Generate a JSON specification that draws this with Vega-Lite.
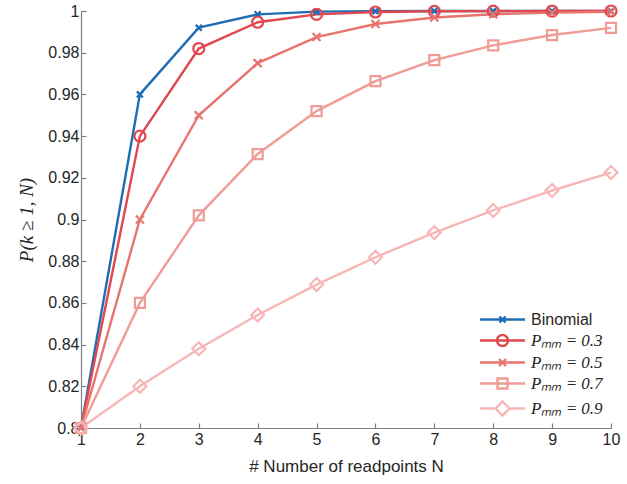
{
  "$schema": "https://vega.github.io/schema/vega-lite/v6.json",
  "width": 530,
  "height": 417,
  "autosize": "none",
  "padding": {"left": 81, "top": 11, "right": 16, "bottom": 56},
  "background": "white",
  "config": {
    "view": {"stroke": null},
    "axis": {
      "domainColor": "#808080",
      "domainWidth": 1.2,
      "tickColor": "#808080",
      "tickWidth": 1.2,
      "tickSize": -5,
      "labelFont": "Liberation Sans",
      "labelFontSize": 16,
      "labelColor": "#262626",
      "titleColor": "#262626",
      "grid": false
    }
  },
  "data": {
    "values": [
      {"N": 1, "s": "Binomial", "p": 0.8},
      {"N": 2, "s": "Binomial", "p": 0.96},
      {"N": 3, "s": "Binomial", "p": 0.992},
      {"N": 4, "s": "Binomial", "p": 0.9984},
      {"N": 5, "s": "Binomial", "p": 0.99968},
      {"N": 6, "s": "Binomial", "p": 0.999936},
      {"N": 7, "s": "Binomial", "p": 0.999987},
      {"N": 8, "s": "Binomial", "p": 0.999997},
      {"N": 9, "s": "Binomial", "p": 0.9999995},
      {"N": 10, "s": "Binomial", "p": 0.9999999},
      {"N": 1, "s": "0.3", "p": 0.8},
      {"N": 2, "s": "0.3", "p": 0.94},
      {"N": 3, "s": "0.3", "p": 0.982},
      {"N": 4, "s": "0.3", "p": 0.9946},
      {"N": 5, "s": "0.3", "p": 0.99838},
      {"N": 6, "s": "0.3", "p": 0.999514},
      {"N": 7, "s": "0.3", "p": 0.999854},
      {"N": 8, "s": "0.3", "p": 0.999956},
      {"N": 9, "s": "0.3", "p": 0.999987},
      {"N": 10, "s": "0.3", "p": 0.999996},
      {"N": 1, "s": "0.5", "p": 0.8},
      {"N": 2, "s": "0.5", "p": 0.9},
      {"N": 3, "s": "0.5", "p": 0.95},
      {"N": 4, "s": "0.5", "p": 0.975},
      {"N": 5, "s": "0.5", "p": 0.9875},
      {"N": 6, "s": "0.5", "p": 0.99375},
      {"N": 7, "s": "0.5", "p": 0.996875},
      {"N": 8, "s": "0.5", "p": 0.998438},
      {"N": 9, "s": "0.5", "p": 0.999219},
      {"N": 10, "s": "0.5", "p": 0.999609},
      {"N": 1, "s": "0.7", "p": 0.8},
      {"N": 2, "s": "0.7", "p": 0.86},
      {"N": 3, "s": "0.7", "p": 0.902},
      {"N": 4, "s": "0.7", "p": 0.9314},
      {"N": 5, "s": "0.7", "p": 0.95198},
      {"N": 6, "s": "0.7", "p": 0.966386},
      {"N": 7, "s": "0.7", "p": 0.97647},
      {"N": 8, "s": "0.7", "p": 0.983529},
      {"N": 9, "s": "0.7", "p": 0.98847},
      {"N": 10, "s": "0.7", "p": 0.991929},
      {"N": 1, "s": "0.9", "p": 0.8},
      {"N": 2, "s": "0.9", "p": 0.82},
      {"N": 3, "s": "0.9", "p": 0.838},
      {"N": 4, "s": "0.9", "p": 0.8542},
      {"N": 5, "s": "0.9", "p": 0.86878},
      {"N": 6, "s": "0.9", "p": 0.881902},
      {"N": 7, "s": "0.9", "p": 0.893712},
      {"N": 8, "s": "0.9", "p": 0.904341},
      {"N": 9, "s": "0.9", "p": 0.913907},
      {"N": 10, "s": "0.9", "p": 0.922516}
    ]
  },
  "encoding": {
    "x": {
      "field": "N",
      "type": "quantitative",
      "scale": {"domain": [1, 10], "nice": false, "zero": false},
      "axis": {
        "values": [1, 2, 3, 4, 5, 6, 7, 8, 9, 10],
        "labelPadding": 8,
        "labelFlush": false,
        "title": "# Number of readpoints N",
        "titleFont": "Liberation Sans",
        "titleFontSize": 17,
        "titleFontWeight": "normal",
        "titlePadding": 11
      }
    },
    "y": {
      "field": "p",
      "type": "quantitative",
      "scale": {"domain": [0.8, 1], "nice": false, "zero": false},
      "axis": {
        "values": [0.8, 0.82, 0.84, 0.86, 0.88, 0.9, 0.92, 0.94, 0.96, 0.98, 1],
        "format": ".2~f",
        "labelPadding": 7,
        "labelFlush": false,
        "title": "P(k ≥ 1, N)",
        "titleFont": "Liberation Serif",
        "titleFontStyle": "italic",
        "titleFontSize": 19,
        "titleFontWeight": "normal",
        "titlePadding": 11
      }
    }
  },
  "layer": [
    {
      "mark": {"type": "line", "strokeWidth": 2.4, "clip": false},
      "encoding": {
        "color": {
          "field": "s",
          "type": "nominal",
          "scale": {
            "domain": ["Binomial", "0.3", "0.5", "0.7", "0.9"],
            "range": ["#1f6db3", "#e0474f", "#e8746e", "#f09c96", "#f7b6b6"]
          },
          "legend": {
            "orient": "none",
            "legendX": 413,
            "legendY": 300,
            "padding": 0,
            "title": null,
            "symbolSize": 100,
            "symbolStrokeWidth": 2.4,
            "rowPadding": 2,
            "labelOffset": 20,
            "labelFontSize": 16,
            "labelColor": "#262626",
            "labelExpr": "datum.value == 'Binomial' ? 'Binomial' : 'Pₘₘ = ' + datum.value",
            "encode": {
              "symbols": {
                "update": {
                  "shape": {"signal": "datum.value == 'Binomial' ? 'M-4.5,0H4.5M-0.6,-0.6L0.6,0.6M-0.6,0.6L0.6,-0.6' : datum.value == '0.3' ? 'M-4.5,0H4.5M-1.1,0A1.1,1.1 0 1,0 1.1,0A1.1,1.1 0 1,0 -1.1,0' : datum.value == '0.5' ? 'M-4.5,0H4.5M-0.7,-0.7L0.7,0.7M-0.7,0.7L0.7,-0.7' : datum.value == '0.7' ? 'M-4.5,0H4.5M-1,-1H1V1H-1Z' : 'M-4.5,0H-1.4M1.4,0H4.5M-1.4,0L0,-1.4L1.4,0L0,1.4Z'"},
                  "size": {"value": 100},
                  "fill": {"value": "transparent"},
                  "strokeWidth": {"value": 2.4}
                }
              },
              "labels": {
                "update": {
                  "font": {"signal": "datum.value == 'Binomial' ? 'Liberation Sans' : 'Liberation Serif'"},
                  "fontStyle": {"signal": "datum.value == 'Binomial' ? 'normal' : 'italic'"},
                  "fontSize": {"signal": "datum.value == 'Binomial' ? 16 : 17"}
                }
              }
            }
          }
        },
        "detail": {"field": "s"}
      }
    },
    {
      "transform": [{"filter": "datum.s == 'Binomial'"}],
      "mark": {"type": "point", "filled": false, "strokeWidth": 2.2, "opacity": 1, "clip": false, "shape": "M-1,-1L1,1M-1,1L1,-1", "size": 36},
      "encoding": {"color": {"field": "s", "type": "nominal", "legend": null}}
    },
    {
      "transform": [{"filter": "datum.s == '0.3'"}],
      "mark": {"type": "point", "filled": false, "strokeWidth": 2.2, "opacity": 1, "clip": false, "shape": "circle", "size": 121},
      "encoding": {"color": {"field": "s", "type": "nominal", "legend": null}}
    },
    {
      "transform": [{"filter": "datum.s == '0.5'"}],
      "mark": {"type": "point", "filled": false, "strokeWidth": 2.2, "opacity": 1, "clip": false, "shape": "M-1,-1L1,1M-1,1L1,-1", "size": 64},
      "encoding": {"color": {"field": "s", "type": "nominal", "legend": null}}
    },
    {
      "transform": [{"filter": "datum.s == '0.7'"}],
      "mark": {"type": "point", "filled": false, "strokeWidth": 2.2, "opacity": 1, "clip": false, "shape": "square", "size": 100},
      "encoding": {"color": {"field": "s", "type": "nominal", "legend": null}}
    },
    {
      "transform": [{"filter": "datum.s == '0.9'"}],
      "mark": {"type": "point", "filled": false, "strokeWidth": 2.2, "opacity": 1, "clip": false, "shape": "diamond", "size": 169},
      "encoding": {"color": {"field": "s", "type": "nominal", "legend": null}}
    }
  ]
}
